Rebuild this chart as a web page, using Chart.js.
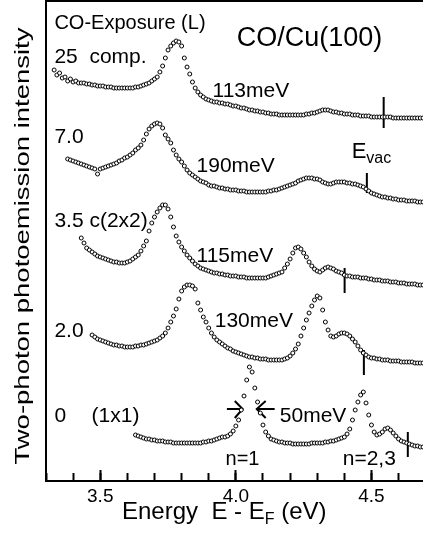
<!DOCTYPE html>
<html>
<head>
<meta charset="utf-8">
<script src="https://cdn.jsdelivr.net/npm/chart.js@4/dist/chart.umd.min.js"></script>
<style>
  html, body { margin: 0; padding: 0; background: #fff; }
  canvas { display: block; }
</style>
</head>
<body>
<canvas id="tppe" width="423" height="533"></canvas>
<script>
// energy grid of the spectra (eV)
const energyStep = 0.01;

// 25 L (compressed layer), intensity incl. vertical offset (arb. units)
const start25 = 3.33;
const int25 = [
  411,406,408,403,404,400,402,399,400,398,
  398,398,397,397,396,396,395,395,395,394,
  394,394,393,393,393,393,393,393,393,393,
  394,394,395,396,397,398,400,402,404,409,
  415,423,431,435,438,440,439,435,423,414,
  407,399,393,389,386,384,382,381,380,379,
  379,378,378,377,377,376,375,375,374,373,
  373,372,371,371,370,370,369,369,368,368,
  367,367,367,366,366,366,366,366,366,366,
  366,366,366,367,367,368,368,369,370,371,
  371,371,370,369,369,368,368,367,367,367,
  366,366,366,365,365,365,365,364,364,364,
  364,364,364,364,364,363,363,363,363,363,
  363,363,363,363,363,363,363
];

// 7.0 L
const start7 = 3.38;
const int7 = [
  322,321,320,319,318,317,316,315,314,313,
  312,307,312,313,314,315,316,317,318,320,
  321,323,324,326,328,331,333,336,341,347,
  352,355,357,358,357,353,346,342,338,331,
  326,322,319,315,311,308,306,304,302,300,
  299,298,296,295,295,294,293,293,292,292,
  291,291,291,290,290,290,289,289,289,289,
  289,289,289,289,290,290,291,291,292,293,
  294,295,296,297,298,300,301,302,303,303,
  303,302,302,301,299,298,297,297,298,299,
  299,299,299,298,298,297,297,296,295,294,
  292,290,288,287,286,285,284,284,283,283,
  282,282,281,281,281,280,280,280,280,279,
  279,279
];

// 3.5 L, c(2x2)
const start35 = 3.43;
const int35 = [
  243,238,233,231,229,227,225,224,223,222,
  221,220,219,219,218,218,218,219,220,222,
  224,226,230,235,240,250,258,264,269,273,
  276,276,272,264,254,245,239,234,230,226,
  223,220,217,215,213,212,211,210,209,208,
  208,207,207,206,206,205,205,205,204,204,
  204,203,203,203,203,203,203,203,203,204,
  205,206,207,208,209,213,217,222,228,233,
  234,232,228,224,219,215,212,210,209,211,
  213,214,213,212,210,209,208,206,205,205,
  204,204,204,203,203,203,202,202,201,201,
  201,200,200,200,199,199,199,198,198,198,
  197,197,197,197,196,196,196
];

// 2.0 L
const start2 = 3.47;
const int2 = [
  146,144,142,141,140,139,138,137,136,136,
  135,135,134,134,134,134,135,135,136,136,
  137,138,139,140,141,143,145,148,153,159,
  165,172,182,190,194,196,196,195,192,178,
  171,164,159,153,148,144,141,139,137,135,
  133,132,130,129,128,127,126,125,124,124,
  123,123,122,122,122,121,121,121,121,121,
  121,122,123,125,128,132,137,145,153,161,
  168,175,181,185,183,171,159,151,145,144,
  145,147,148,148,147,145,142,139,135,131,
  128,126,124,123,123,122,122,121,121,121,
  120,120,120,120,119,119,119,119,119,118,
  118,118,118
];

// 0 L, clean (1x1)
const start0 = 3.63;
const int0 = [
  46,45,44,43,42,42,41,41,40,40,
  40,39,39,39,38,38,38,38,38,38,
  38,38,38,38,38,39,39,40,40,41,
  42,43,44,44,45,47,50,55,61,71,
  85,101,114,109,93,79,68,56,49,45,
  42,41,40,39,39,38,38,38,37,37,
  37,37,37,37,37,38,38,38,38,38,
  39,39,40,40,41,42,43,44,47,52,
  61,71,79,86,89,78,66,56,49,46,
  47,49,52,53,51,48,45,42,40,39,
  38,37,36,35,35,34,34
];

// vacuum level markers (one per spectrum, top to bottom)
const evacEnergy = [4.545, 4.483, 4.401, 4.472, 4.634];
const evacLow = [353, 288, 188, 106, 24];
const evacHigh = [384, 308, 213, 131, 49];

// FWHM arrows on the n=1 peak of the clean surface
const arrowLeftHead = [[3.996, 80], [4.025, 72], [3.996, 63]];
const arrowLeftTail = [[3.967, 72], [4.025, 72]];
const arrowRightHead = [[4.110, 80], [4.077, 72], [4.110, 63]];
const arrowRightTail = [[4.077, 72], [4.143, 72]];

const majorTicks = ['3.5', '4.0', '4.5'];

const FONT = '"Liberation Sans", Arial, Helvetica, sans-serif';
const X_MIN = 3.3, X_MAX = 4.69;

const toPoints = (start, vals) => vals.map((v, i) => ({ x: +(start + i * energyStep).toFixed(3), y: v }));
const pairs = arr => arr.map(p => ({ x: p[0], y: p[1] }));

const spectrum = (start, vals) => ({
  data: toPoints(start, vals),
  showLine: false,
  pointRadius: 2,
  pointHoverRadius: 2,
  pointBorderWidth: 1,
  pointBorderColor: '#000',
  pointBackgroundColor: '#fff'
});
const segment = pts => ({
  data: pts,
  showLine: true,
  borderColor: '#000',
  borderWidth: 2,
  pointRadius: 0,
  pointHoverRadius: 0,
  fill: false
});

const datasets = [
  spectrum(start25, int25),
  spectrum(start7, int7),
  spectrum(start35, int35),
  spectrum(start2, int2),
  spectrum(start0, int0)
];
evacEnergy.forEach((e, i) => {
  datasets.push(segment([{ x: e, y: evacLow[i] }, { x: e, y: evacHigh[i] }]));
});
[arrowLeftHead, arrowLeftTail, arrowRightHead, arrowRightTail].forEach(a => datasets.push(segment(pairs(a))));

// text labels placed in data coordinates
const labels = [
  { t: 'CO-Exposure (L)', x: 3.331, y: 452, s: 20 },
  { t: '25  comp.', x: 3.331, y: 418, s: 21 },
  { t: 'CO/Cu(100)', x: 4.003, y: 435, s: 27 },
  { t: '113meV', x: 3.914, y: 384, s: 21 },
  { t: '7.0', x: 3.331, y: 338, s: 21 },
  { t: '190meV', x: 3.855, y: 309, s: 21 },
  { t: '3.5 c(2x2)', x: 3.331, y: 254, s: 21 },
  { t: '115meV', x: 3.855, y: 219, s: 21 },
  { t: '2.0', x: 3.331, y: 144, s: 21 },
  { t: '130meV', x: 3.922, y: 154, s: 21 },
  { t: '0', x: 3.331, y: 59, s: 21 },
  { t: '(1x1)', x: 3.468, y: 59, s: 21 },
  { t: '50meV', x: 4.162, y: 59, s: 21 },
  { t: 'n=1', x: 3.962, y: 16, s: 20 },
  { t: 'n=2,3', x: 4.394, y: 16, s: 21 }
];

const texts = {
  id: 'texts',
  afterDraw(chart) {
    const { ctx, scales: { x, y } } = chart;
    ctx.save();
    ctx.fillStyle = '#000';
    ctx.textAlign = 'left';
    ctx.textBaseline = 'alphabetic';
    labels.forEach(l => {
      ctx.font = l.s + 'px ' + FONT;
      ctx.fillText(l.t, x.getPixelForValue(l.x), y.getPixelForValue(l.y));
    });

    // E_vac
    let ex = x.getPixelForValue(4.427), ey = y.getPixelForValue(323);
    ctx.font = '22px ' + FONT;
    ctx.fillText('E', ex, ey);
    ex += ctx.measureText('E').width;
    ctx.font = '16px ' + FONT;
    ctx.fillText('vac', ex, ey + 5);

    // x title with subscript
    let tx = 122;
    const ty = 519;
    ctx.font = '24px ' + FONT;
    ctx.fillText('Energy  E - E', tx, ty);
    tx += ctx.measureText('Energy  E - E').width;
    ctx.font = '16px ' + FONT;
    ctx.fillText('F', tx, ty + 5);
    tx += ctx.measureText('F').width;
    ctx.font = '24px ' + FONT;
    ctx.fillText(' (eV)', tx, ty);

    // y title
    const yTitle = 'Two-photon photoemission intensity';
    ctx.translate(29, 246);
    ctx.rotate(-Math.PI / 2);
    ctx.font = '20px ' + FONT;
    const w = ctx.measureText(yTitle).width;
    ctx.scale(437 / w, 1);
    ctx.textAlign = 'center';
    ctx.fillText(yTitle, 0, 0);
    ctx.restore();
  }
};

const blackBorder = { display: true, color: '#000', width: 2 };

new Chart(document.getElementById('tppe'), {
  type: 'scatter',
  data: { datasets },
  options: {
    responsive: false,
    animation: false,
    devicePixelRatio: 1,
    events: [],
    layout: { autoPadding: false, padding: { left: 46, top: 1, right: 0, bottom: 0 } },
    plugins: { legend: { display: false }, tooltip: { enabled: false } },
    scales: {
      // major ticks (0.5 eV), drawn inward, no labels
      xMajor: {
        type: 'linear',
        position: 'bottom',
        weight: -1,
        min: X_MIN,
        max: X_MAX,
        afterFit: s => { s.height = 0; },
        grid: { display: true, drawOnChartArea: false, drawTicks: true, tickLength: -11, tickWidth: 2, tickColor: '#000' },
        border: { display: false },
        ticks: { display: false, stepSize: 0.5, includeBounds: false }
      },
      // minor ticks (0.1 eV), drawn inward, labels at 3.5 / 4.0 / 4.5
      x: {
        type: 'linear',
        position: 'bottom',
        min: X_MIN,
        max: X_MAX,
        afterFit: s => { s.height = 52; },
        grid: { display: true, drawOnChartArea: false, drawTicks: true, tickLength: -8, tickWidth: 2, tickColor: '#000' },
        border: blackBorder,
        ticks: {
          stepSize: 0.1,
          includeBounds: false,
          autoSkip: false,
          maxRotation: 0,
          padding: 12,
          color: '#000',
          font: { family: FONT, size: 19 },
          callback: v => {
            const k = Math.round(v * 10);
            if (Math.abs(v * 10 - k) > 1e-6 || k % 5 !== 0) return '';
            return majorTicks.find(t => Math.round(parseFloat(t) * 10) === k) || '';
          }
        }
      },
      // top frame line
      xTop: {
        type: 'linear',
        position: 'top',
        min: X_MIN,
        max: X_MAX,
        afterFit: s => { s.height = 0; },
        grid: { display: false, drawTicks: false },
        border: blackBorder,
        ticks: { display: false }
      },
      y: {
        display: true,
        min: 0,
        max: 480,
        afterFit: s => { s.width = 0; },
        grid: { display: false, drawTicks: false },
        border: blackBorder,
        ticks: { display: false }
      }
    }
  },
  plugins: [texts]
});
</script>
</body>
</html>
